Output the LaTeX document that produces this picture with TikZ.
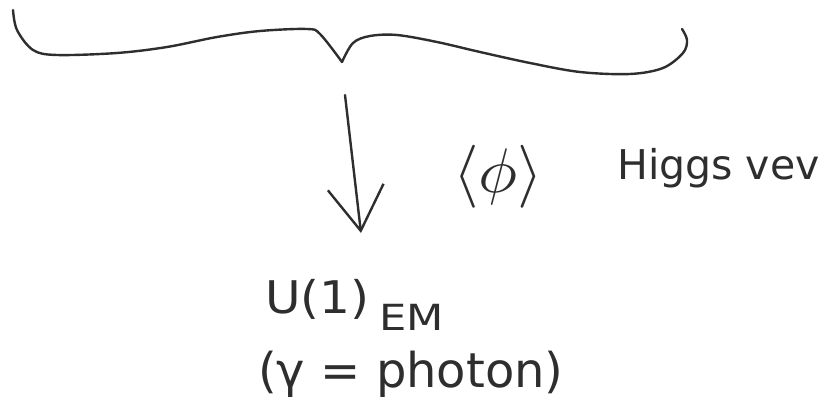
\documentclass[tikz,border=0pt]{standalone}
\usepackage{fontspec}
\setsansfont{DejaVu Sans}
\usetikzlibrary{arrows.meta}
\definecolor{ink}{HTML}{2E2E2E}
\tikzset{
  pen/.style={draw=ink, line width=2.4pt, line cap=round, line join=round},
  hand/.style={text=ink, inner sep=0pt, font=\sffamily},
}
\begin{document}
\begin{tikzpicture}[x=1pt,y=-1pt]
\useasboundingbox (0,0) rectangle (824,406);
% brace
\draw[pen] plot[smooth, tension=0.55] coordinates {
  (13,10) (17,30) (33,50) (57,55) (117,53) (167,47) (217,37) (260,31) (307,29) (320,34) (342,62)};
\draw[pen] plot[smooth, tension=0.55] coordinates {
  (342,62) (353,43) (370,36) (397,35) (437,42) (480,52) (530,63) (580,72) (630,74) (663,68) (683,53) (687,40) (682,29)};
\coordinate (top) at (345,95);
\coordinate (tip) at (361,233);
\draw[pen, -{Straight Barb[length=44pt,width=56pt]}] (top) -- (tip);
\node[hand, anchor=base west] (vev) at (453,180)
  {\raisebox{-13pt}{\resizebox*{90pt}{63pt}{$\langle\phi\rangle$}}\hspace{74pt}\fontsize{41}{48}\selectfont Higgs vev};
\node[hand, anchor=base west] (u1) at (265,313)
  {\scalebox{1.08}[1]{\fontsize{45}{52}\selectfont U(1)}\hspace{10pt}\raisebox{-17pt}{\scalebox{1.2}[1]{\fontsize{36}{42}\selectfont EM}}};
\node[hand, anchor=base west] (ph) at (258,387)
  {\fontsize{48}{56}\selectfont (γ = photon)};
\end{tikzpicture}
\end{document}
